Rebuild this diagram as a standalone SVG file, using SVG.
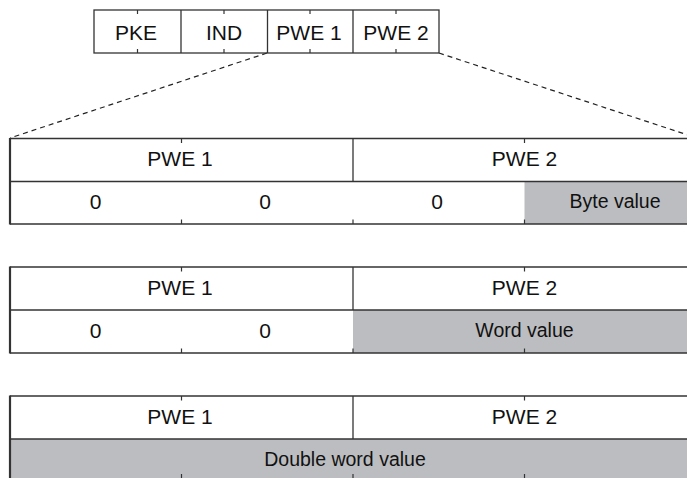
<svg xmlns="http://www.w3.org/2000/svg" width="687" height="478" viewBox="0 0 687 478">
<style>
.ln{stroke:#333;stroke-width:1.3;fill:none}
.lb{stroke:#333;stroke-width:2.2;fill:none}
.gr{fill:#bcbdc0}
.tk{stroke:#333;stroke-width:1.2}
.t{font-family:"Liberation Sans",Arial,sans-serif;font-size:21px;fill:#111;text-anchor:middle}
.v{font-size:19.5px}
.dash{stroke:#222;stroke-width:1.2;stroke-dasharray:5 4;fill:none}
</style>
<rect width="687" height="478" fill="#fff"/>
<g id="connectors">
<line class="dash" x1="267" y1="53" x2="10" y2="138"/>
<line class="dash" x1="439" y1="53" x2="697" y2="138"/>
</g>
<g id="frame">
<rect class="ln" x="94" y="10" width="345" height="43"/>
<line class="ln" x1="181" y1="10" x2="181" y2="53"/>
<line class="ln" x1="267.5" y1="10" x2="267.5" y2="53"/>
<line class="ln" x1="353" y1="10" x2="353" y2="53"/>
<g class="tk">
<line x1="137.5" y1="10" x2="137.5" y2="14"/><line x1="137.5" y1="53" x2="137.5" y2="49"/>
<line x1="224" y1="10" x2="224" y2="14"/><line x1="224" y1="53" x2="224" y2="49"/>
<line x1="310" y1="10" x2="310" y2="14"/><line x1="310" y1="53" x2="310" y2="49"/>
<line x1="396" y1="10" x2="396" y2="14"/><line x1="396" y1="53" x2="396" y2="49"/>
</g>
<text class="t" x="136" y="39.5">PKE</text>
<text class="t" x="224" y="39.5">IND</text>
<text class="t" x="309" y="39.5">PWE 1</text>
<text class="t" x="396" y="39.5">PWE 2</text>
</g>
<g id="byte">
<rect class="gr" x="524.5" y="181.5" width="170" height="42.5"/>
<line class="ln" x1="10" y1="138.5" x2="695" y2="138.5"/>
<line class="ln" x1="10" y1="181.5" x2="695" y2="181.5"/>
<line class="ln" x1="10" y1="224" x2="695" y2="224"/>
<line class="lb" x1="10" y1="138" x2="10" y2="224.5"/>
<line class="ln" x1="353" y1="138.5" x2="353" y2="181.5"/>
<g class="tk">
<line x1="181.5" y1="138.5" x2="181.5" y2="143"/><line x1="524.5" y1="138.5" x2="524.5" y2="143"/>
<line x1="181.5" y1="224" x2="181.5" y2="219.5"/><line x1="353" y1="224" x2="353" y2="219.5"/><line x1="524.5" y1="224" x2="524.5" y2="219.5"/>
</g>
<text class="t" x="180" y="166">PWE 1</text>
<text class="t" x="524.5" y="166">PWE 2</text>
<text class="t" x="95.5" y="209">0</text>
<text class="t" x="265" y="209">0</text>
<text class="t" x="437" y="209">0</text>
<text class="t v" x="615" y="207.5">Byte value</text>
</g>
<g id="word">
<rect class="gr" x="353" y="310" width="342" height="43"/>
<line class="ln" x1="10" y1="267" x2="695" y2="267"/>
<line class="ln" x1="10" y1="310" x2="695" y2="310"/>
<line class="ln" x1="10" y1="353" x2="695" y2="353"/>
<line class="lb" x1="10" y1="266.5" x2="10" y2="353.5"/>
<line class="ln" x1="353" y1="267" x2="353" y2="310"/>
<g class="tk">
<line x1="181.5" y1="267" x2="181.5" y2="271.5"/><line x1="524.5" y1="267" x2="524.5" y2="271.5"/>
<line x1="181.5" y1="353" x2="181.5" y2="348.5"/><line x1="353" y1="353" x2="353" y2="348.5"/><line x1="524.5" y1="353" x2="524.5" y2="348.5"/>
</g>
<text class="t" x="180" y="295">PWE 1</text>
<text class="t" x="524.5" y="295">PWE 2</text>
<text class="t" x="95.5" y="338">0</text>
<text class="t" x="265" y="338">0</text>
<text class="t v" x="524.5" y="336.5">Word value</text>
</g>
<g id="dword">
<rect class="gr" x="10" y="439" width="685" height="43"/>
<line class="ln" x1="10" y1="396" x2="695" y2="396"/>
<line class="ln" x1="10" y1="439" x2="695" y2="439"/>
<line class="ln" x1="10" y1="482" x2="695" y2="482"/>
<line class="lb" x1="10" y1="395.5" x2="10" y2="482.5"/>
<line class="ln" x1="353" y1="396" x2="353" y2="439"/>
<g class="tk">
<line x1="181.5" y1="396" x2="181.5" y2="400.5"/><line x1="524.5" y1="396" x2="524.5" y2="400.5"/>
<line x1="181.5" y1="482" x2="181.5" y2="474"/><line x1="353" y1="482" x2="353" y2="474"/><line x1="524.5" y1="482" x2="524.5" y2="474"/>
</g>
<text class="t" x="180" y="424">PWE 1</text>
<text class="t" x="524.5" y="424">PWE 2</text>
<text class="t v" x="345" y="465.5">Double word value</text>
</g>
</svg>
